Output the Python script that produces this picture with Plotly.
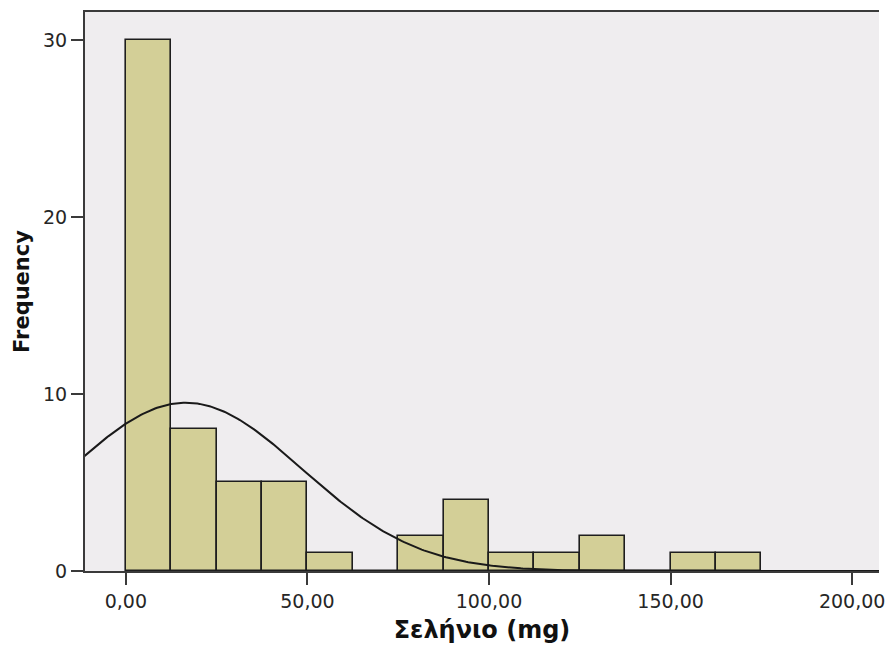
import numpy as np
import plotly.graph_objects as go

# Histogram of selenium intake, bins of width 12.5 mg
bin_left = [0, 12.5, 25, 37.5, 50, 62.5, 75, 87.5, 100, 112.5, 125, 137.5, 150, 162.5]
counts = [30, 8, 5, 5, 1, 0, 2, 4, 1, 1, 2, 0, 1, 1]
bin_width = 12.5

# Normal curve overlay parameters
curve_mean = 16.5
curve_sd = 32.0

x_tickvals = [0, 50, 100, 150, 200]
x_ticktext = ["0,00", "50,00", "100,00", "150,00", "200,00"]
y_tickvals = [0, 10, 20, 30]

n_total = sum(counts)
centers = [b + bin_width / 2 for b in bin_left]

xs = np.linspace(-12, 210, 400)
ys = n_total * bin_width / (curve_sd * np.sqrt(2 * np.pi)) * np.exp(-0.5 * ((xs - curve_mean) / curve_sd) ** 2)

fig = go.Figure()
fig.add_trace(go.Bar(
    x=centers, y=counts, width=bin_width,
    marker=dict(color="#D3CF97", line=dict(color="#1e1e1e", width=1.6)),
    hoverinfo="skip",
))
fig.add_trace(go.Scatter(
    x=xs, y=ys, mode="lines",
    line=dict(color="#1a1a1a", width=2),
    hoverinfo="skip",
))

axis_color = "#3a3a3a"
fig.update_layout(
    width=885, height=649,
    margin=dict(l=85, r=0, t=12, b=78),
    paper_bgcolor="white",
    plot_bgcolor="#EFEDEF",
    showlegend=False,
    bargap=0,
    font=dict(family="DejaVu Sans", color="#262626", size=19),
    xaxis=dict(
        range=[-11.26, 207.4],
        tickvals=x_tickvals, ticktext=x_ticktext,
        ticklabeloverflow="allow",
        ticks="outside", ticklen=12, tickwidth=2, tickcolor=axis_color,
        showline=True, linecolor=axis_color, linewidth=2, mirror=True,
        showgrid=False, zeroline=False,
        title=dict(text="Σελήνιο (mg)", font=dict(family="DejaVu Sans", size=24, color="#111111", weight="bold"), standoff=10),
    ),
    yaxis=dict(
        range=[0, 31.58],
        tickvals=y_tickvals,
        ticks="outside", ticklen=12, tickwidth=2, tickcolor=axis_color,
        showline=True, linecolor=axis_color, linewidth=2,
        showgrid=False, zeroline=False,
        title=dict(text="Frequency", font=dict(family="DejaVu Sans", size=21, color="#111111", weight="bold"), standoff=8),
    ),
)

fig.write_html("out.html")
